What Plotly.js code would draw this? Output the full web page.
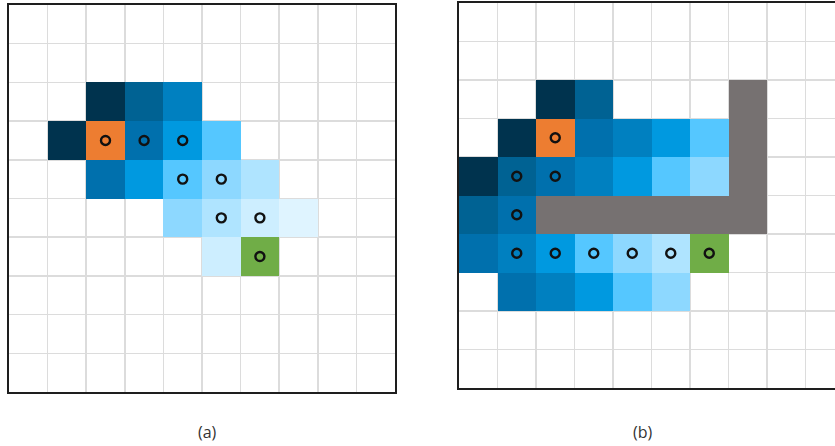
<!DOCTYPE html>
<html>
<head>
<meta charset="utf-8">
<script src="https://cdn.plot.ly/plotly-3.0.1.min.js"></script>
<style>
  html, body { margin: 0; padding: 0; overflow: hidden; background: #fff; }
  #chart { width: 850px; height: 446px; }
</style>
</head>
<body>
<div id="chart"></div>
<script>
// Palette codes: 0-9 blue shades (dark -> light), 10 orange start, 11 green goal, 12 gray obstacle
const palette = ['#00334e', '#006293', '#0070ad', '#0080c0', '#0099e0',
                 '#55c7ff', '#8dd8ff', '#afe4ff', '#cdeeff', '#dff4ff',
                 '#ed7d31', '#70ad47', '#767171'];
const N = null;
const gridA = [
  [N, N, N, N, N, N, N, N, N, N],
  [N, N, N, N, N, N, N, N, N, N],
  [N, N, 0, 1, 3, N, N, N, N, N],
  [N, 0, 10, 2, 4, 5, N, N, N, N],
  [N, N, 2, 4, 5, 6, 7, N, N, N],
  [N, N, N, N, 6, 7, 8, 9, N, N],
  [N, N, N, N, N, 8, 11, N, N, N],
  [N, N, N, N, N, N, N, N, N, N],
  [N, N, N, N, N, N, N, N, N, N],
  [N, N, N, N, N, N, N, N, N, N]
];
const gridB = [
  [N, N, N, N, N, N, N, N, N, N],
  [N, N, N, N, N, N, N, N, N, N],
  [N, N, 0, 1, N, N, N, 12, N, N],
  [N, 0, 10, 2, 3, 4, 5, 12, N, N],
  [0, 1, 2, 3, 4, 5, 6, 12, N, N],
  [1, 2, 12, 12, 12, 12, 12, 12, N, N],
  [2, 3, 4, 5, 6, 7, 11, N, N, N],
  [N, 2, 3, 4, 5, 6, N, N, N, N],
  [N, N, N, N, N, N, N, N, N, N],
  [N, N, N, N, N, N, N, N, N, N]
];
const pathAx = [2, 3, 4, 4, 5, 5, 6, 6];
const pathAy = [3, 3, 3, 4, 4, 5, 5, 6];
const pathBx = [2, 1, 2, 1, 1, 2, 3, 4, 5, 6];
const pathBy = [3, 4, 4, 5, 6, 6, 6, 6, 6, 6];
const labels = ['(a)', '(b)'];

const n = palette.length;
const cscale = [];
palette.forEach((c, i) => { cscale.push([i / n, c]); cscale.push([(i + 1) / n, c]); });

function heat(z, xa, ya) {
  return { type: 'heatmap', z: z, xaxis: xa, yaxis: ya, colorscale: cscale,
           zmin: -0.5, zmax: n - 0.5, showscale: false, hoverinfo: 'skip', xgap: 0, ygap: 0 };
}
function path(x, y, xa, ya) {
  return { type: 'scatter', mode: 'markers', x: x, y: y, xaxis: xa, yaxis: ya,
           marker: { symbol: 'circle-open', size: 9, color: '#111', line: { width: 2.4, color: '#111' } },
           hoverinfo: 'skip', showlegend: false };
}
const W = 850, H = 446;
function ax(domain, range) {
  return { domain: domain, range: range, tick0: -0.5, dtick: 1, showticklabels: false, ticks: '',
           showgrid: true, gridcolor: '#dcdcdc', gridwidth: 1.5, zeroline: false,
           showline: true, mirror: true, linecolor: '#1e1e1e', linewidth: 2, fixedrange: true };
}
const labelFont = { family: 'Open Sans, sans-serif', size: 16, color: '#333' };
const layout = {
  width: W, height: H,
  margin: { l: 0, r: 0, t: 0, b: 0 },
  paper_bgcolor: '#fff', plot_bgcolor: '#fff',
  showlegend: false,
  xaxis: Object.assign(ax([9 / W, 395 / W], [-0.5, 9.5]), { anchor: 'y' }),
  yaxis: Object.assign(ax([1 - 392 / H, 1 - 5 / H], [9.5, -0.5]), { anchor: 'x' }),
  xaxis2: Object.assign(ax([459 / W, 844 / W], [-0.5, 9.5]), { anchor: 'y2' }),
  yaxis2: Object.assign(ax([1 - 388 / H, 1 - 3 / H], [9.5, -0.5]), { anchor: 'x2' }),
  annotations: [
    { text: labels[0], xref: 'paper', yref: 'paper', x: 207 / W, y: 1 - 432 / H, showarrow: false,
      xanchor: 'center', yanchor: 'middle', font: labelFont },
    { text: labels[1], xref: 'paper', yref: 'paper', x: 643 / W, y: 1 - 432 / H, showarrow: false,
      xanchor: 'center', yanchor: 'middle', font: labelFont }
  ]
};
const data = [heat(gridA, 'x', 'y'), heat(gridB, 'x2', 'y2'),
              path(pathAx, pathAy, 'x', 'y'), path(pathBx, pathBy, 'x2', 'y2')];
Plotly.newPlot('chart', data, layout, { staticPlot: true, displayModeBar: false });
</script>
</body>
</html>
